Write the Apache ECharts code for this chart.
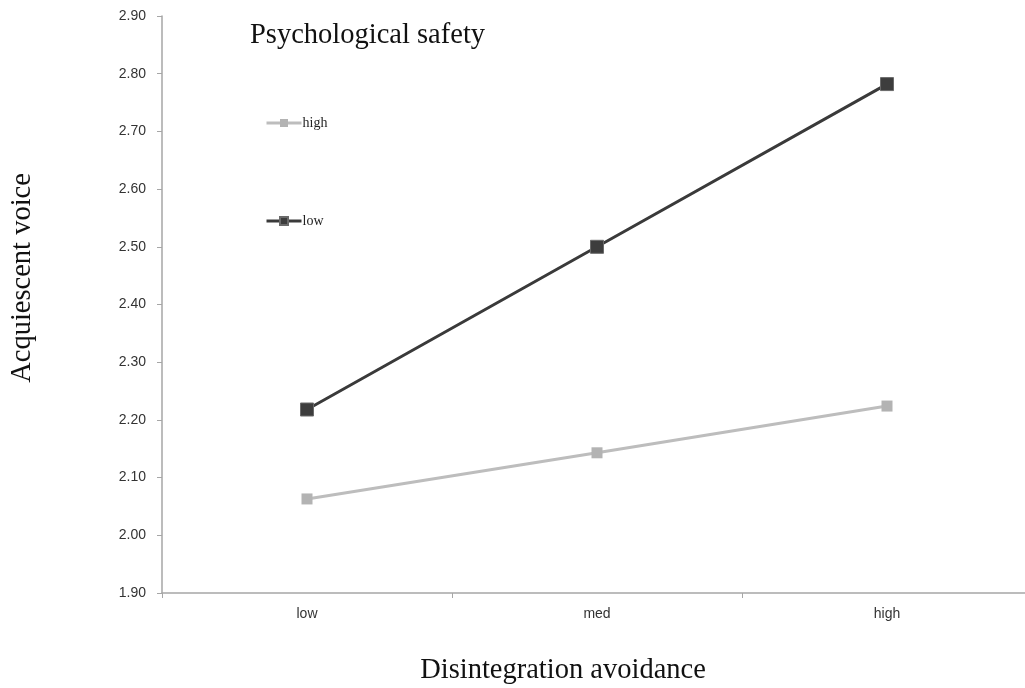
<!DOCTYPE html>
<html>
<head>
<meta charset="utf-8">
<script src="https://cdn.jsdelivr.net/npm/echarts@6/dist/echarts.min.js"></script>
<style>html,body{margin:0;padding:0;background:#fff}#c{width:1025px;height:688px}</style>
</head>
<body>
<div id="c"></div>
<script>
var categories = ['low', 'med', 'high'];
var highSafety = [2.063, 2.143, 2.224];
var lowSafety = [2.218, 2.50, 2.782];
var yTicks = [1.9, 2.9, 0.1];

var chart = echarts.init(document.getElementById('c'));
chart.setOption({
  animation: false,
  backgroundColor: '#ffffff',
  grid: { left: 162, width: 870, top: 16, bottom: 95, outerBoundsMode: 'none' },
  title: {
    text: 'Psychological safety',
    left: 250, top: 21, padding: 0,
    textStyle: { fontFamily: 'Liberation Serif', fontSize: 28.5, fontWeight: 'normal', color: '#111' }
  },
  legend: {
    orient: 'vertical',
    left: 265, top: 116, padding: 0,
    itemGap: 84,
    itemWidth: 35, itemHeight: 10,
    textStyle: { fontFamily: 'Liberation Serif', fontSize: 14, color: '#222', padding: [0,0,0,-4] },
    data: [
      { name: 'high', lineStyle: { width: 3, color: '#bdbdbd' } },
      { name: 'low', lineStyle: { width: 3, color: '#3a3a3a' } }
    ]
  },
  graphic: [
    { type: 'text', x: 563, y: 671, style: { text: 'Disintegration avoidance', fontFamily: 'Liberation Serif', fontSize: 28.5, fill: '#111', align: 'center', verticalAlign: 'middle' } },
    { type: 'text', x: 23, y: 278, rotation: Math.PI / 2, style: { text: 'Acquiescent voice', fontFamily: 'Liberation Serif', fontSize: 28.5, fill: '#111', align: 'center', verticalAlign: 'middle' } }
  ],
  xAxis: {
    type: 'category',
    data: categories,
    boundaryGap: true,
    axisLine: { lineStyle: { color: '#a6a6a6', width: 1.5 } },
    axisTick: { show: true, length: 5, inside: false, lineStyle: { color: '#a6a6a6' } },
    axisLabel: { fontFamily: 'Liberation Sans', fontSize: 14, color: '#333', margin: 14 },
    splitLine: { show: false }
  },
  yAxis: {
    type: 'value',
    min: yTicks[0], max: yTicks[1], interval: yTicks[2],
    axisLine: { show: true, lineStyle: { color: '#a6a6a6', width: 1.5 } },
    axisTick: { show: true, length: 5, lineStyle: { color: '#a6a6a6' } },
    axisLabel: { fontFamily: 'Liberation Sans', fontSize: 14, color: '#333', margin: 16,
      formatter: function (v) { return v.toFixed(2); } },
    splitLine: { show: false }
  },
  series: [
    {
      name: 'high', type: 'line', data: highSafety,
      symbol: 'rect', symbolSize: 11,
      lineStyle: { color: '#bdbdbd', width: 3 },
      itemStyle: { color: '#b3b3b3' }
    },
    {
      name: 'low', type: 'line', data: lowSafety,
      symbol: 'rect', symbolSize: 13,
      lineStyle: { color: '#3a3a3a', width: 3 },
      itemStyle: { color: '#3d3d3d', borderColor: '#6a6a6a', borderWidth: 1 }
    }
  ]
});
</script>
</body>
</html>
